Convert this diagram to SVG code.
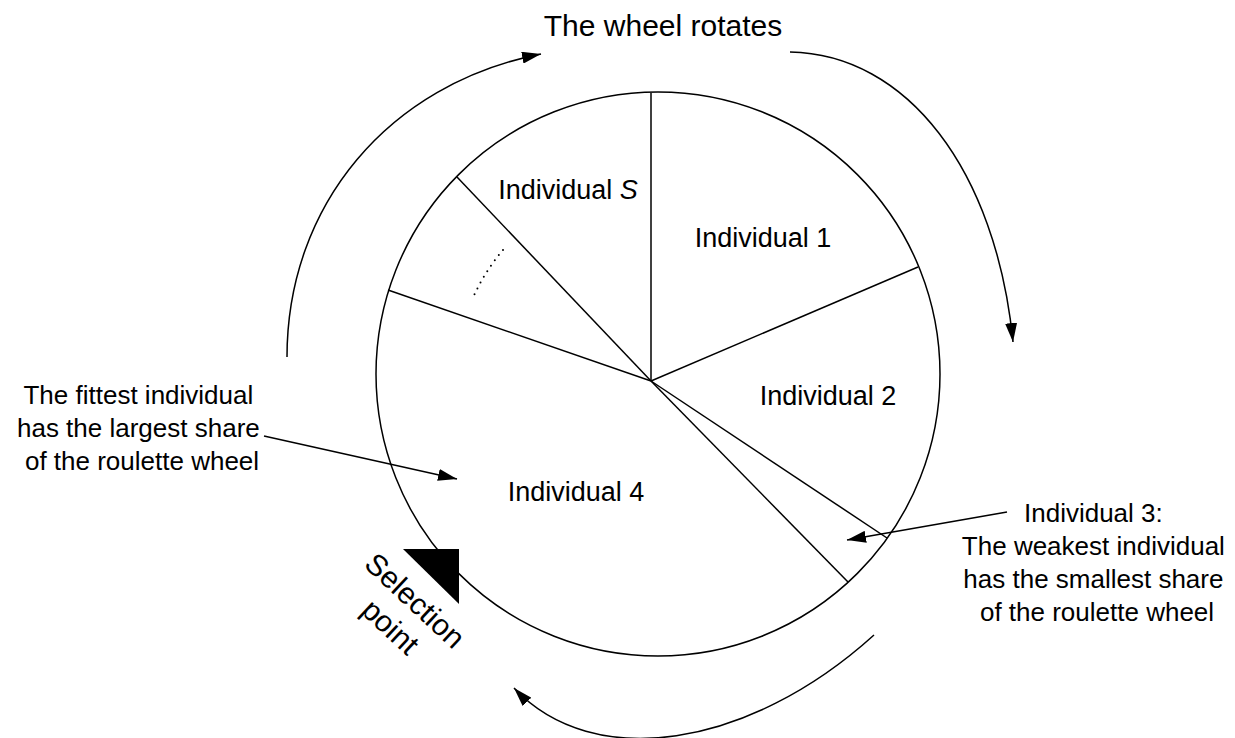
<svg xmlns="http://www.w3.org/2000/svg" width="1235" height="738" viewBox="0 0 1235 738">
<style>
  text { font-family: "Liberation Sans", Arial, sans-serif; fill: #000; }
  .lbl { font-size: 27px; }
  .ann { font-size: 26px; }
  .ttl { font-size: 30px; }
  .ln { stroke: #000; stroke-width: 1.5; fill: none; }
</style>
<defs>
  <marker id="ah" viewBox="0 0 19 12" refX="19" refY="6" markerWidth="19" markerHeight="12" orient="auto" markerUnits="userSpaceOnUse">
    <path d="M0,0 L19,6 L0,12 z" fill="#000"/>
  </marker>
</defs>
<rect width="1235" height="738" fill="#fff"/>

<g id="wheel">
  <circle class="ln" cx="658" cy="374" r="282"/>
  <line class="ln" x1="651" y1="381" x2="651" y2="93"/>
  <line class="ln" x1="651" y1="381" x2="918" y2="267"/>
  <line class="ln" x1="651" y1="381" x2="887" y2="538"/>
  <line class="ln" x1="651" y1="381" x2="848" y2="582"/>
  <line class="ln" x1="651" y1="381" x2="388" y2="290"/>
  <line class="ln" x1="651" y1="381" x2="457" y2="177"/>
  <path d="M503,250 A197,197 0 0 0 472,300" fill="none" stroke="#000" stroke-width="2" stroke-linecap="round" stroke-dasharray="0 6.6"/>
</g>

<g id="title"><text class="ttl" x="663" y="36" text-anchor="middle">The wheel rotates</text></g>
<g id="individual-s"><text class="lbl" x="568" y="199" text-anchor="middle">Individual <tspan font-style="italic">S</tspan></text></g>
<g id="individual-1"><text class="lbl" x="763" y="247" text-anchor="middle">Individual 1</text></g>
<g id="individual-2"><text class="lbl" x="828" y="405" text-anchor="middle">Individual 2</text></g>
<g id="individual-4"><text class="lbl" x="576" y="501" text-anchor="middle">Individual 4</text></g>

<g id="fittest-note">
  <text class="ann" text-anchor="middle">
    <tspan x="142" y="404">The fittest individual</tspan>
    <tspan x="142" y="437">has the largest share</tspan>
    <tspan x="142" y="470">of the roulette wheel</tspan>
  </text>
</g>

<g id="weakest-note">
  <text class="ann" text-anchor="middle">
    <tspan x="1097" y="522">Individual 3:</tspan>
    <tspan x="1097" y="555">The weakest individual</tspan>
    <tspan x="1097" y="588">has the smallest share</tspan>
    <tspan x="1097" y="621">of the roulette wheel</tspan>
  </text>
</g>

<g id="selection-point">
  <path d="M403,549 L459,549 L459,604 z" fill="#000"/>
  <g transform="translate(408,608) rotate(43)">
    <text class="ttl" x="0" y="0" text-anchor="middle">Selection</text>
    <text class="ttl" x="0" y="36" text-anchor="middle">point</text>
  </g>
</g>

<g id="connectors">
  <path class="ln" d="M287,357 C287,205 388.6,84 541,54" marker-end="url(#ah)"/>
  <path class="ln" d="M790,52 C907,54 996,170 1013,342" marker-end="url(#ah)"/>
  <path class="ln" d="M874,635 C748,749 593,772 514,688" marker-end="url(#ah)"/>
  <line class="ln" x1="264" y1="436" x2="457" y2="479" marker-end="url(#ah)"/>
  <line class="ln" x1="1007" y1="512" x2="847" y2="540" marker-end="url(#ah)"/>
</g>
</svg>
